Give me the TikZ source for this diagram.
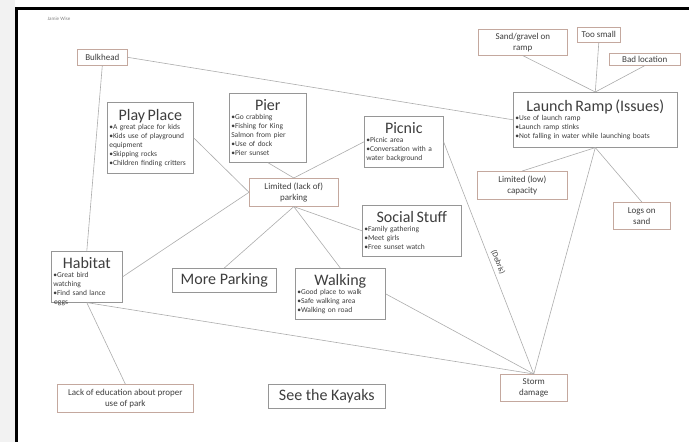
\documentclass[tikz,border=0pt]{standalone}
\usepackage{fontspec}
\setmainfont{Carlito}

\definecolor{linegray}{RGB}{172,172,172}
\definecolor{boxgray}{RGB}{150,150,150}
\definecolor{issuebrown}{RGB}{196,168,158}
\definecolor{inkgray}{RGB}{62,62,62}
\newcommand{\ttl}[1]{{\centering\fontsize{16}{18}\selectfont #1\par}}

\begin{document}
\begin{tikzpicture}[x=1pt,y=-1pt,
	topic/.style={draw=boxgray, line width=0.6pt, fill=white, text=inkgray, align=left, inner sep=2pt, anchor=north west, font=\fontsize{7.5}{9}\selectfont},
	issue/.style={draw=issuebrown, line width=0.6pt, fill=white, text=inkgray, align=center, inner sep=1pt, anchor=north west, font=\fontsize{9}{11}\selectfont},
	big/.style={draw=boxgray, line width=0.6pt, fill=white, text=inkgray, align=center, inner sep=1pt, anchor=north west, font=\fontsize{16}{18}\selectfont},
	link/.style={draw=linegray, line width=0.6pt}]
	\useasboundingbox (0,0) rectangle (689,442);
	\fill[gray!10] (0,0) rectangle (14.5,442);
	\draw[line width=3pt] (16,442) -- (16,8) -- (689,8);
	\node[anchor=west, text=gray, font=\fontsize{5}{6}\selectfont] (name) at (44,19) {Jamie Wise};

	\node[issue, minimum width=50, minimum height=16] (bulk) at (77,49) {Bulkhead};
	\node[topic, text width=82, minimum height=71] (play) at (107,102) {\ttl{Play Place}•A great place for kids\\ •Kids use of playground\\ equipment\\ •Skipping rocks\\ •Children finding critters};
	\node[topic, text width=73, minimum height=69] (pier) at (229,93) {\ttl{Pier}•Go crabbing\\ •Fishing for King\\ Salmon from pier\\ •Use of dock\\ •Pier sunset};
	\node[topic, text width=75, minimum height=51] (picnic) at (364,116) {\ttl{Picnic}•Picnic area\\ •Conversation with a\\ water background};
	\node[issue, minimum width=89, minimum height=28] (park) at (249,178) {Limited (lack of)\\ parking};
	\node[topic, text width=95, minimum height=51] (social) at (362,205) {\ttl{Social Stuff}•Family gathering\\ •Meet girls\\ •Free sunset watch};
	\node[topic, text width=67, minimum height=51,
		label={[anchor=north west, inner sep=0pt, xshift=3pt, yshift=2pt, text=inkgray, font=\fontsize{7.5}{9}\selectfont]south west:eggs}] (habitat) at (51,251) {\ttl{Habitat}•Great bird\\ watching\\ •Find sand lance};
	\node[big, minimum width=104, minimum height=24] (more) at (172,268) {More Parking};
	\node[topic, text width=86, minimum height=51] (walking) at (295,268) {\ttl{Walking}•Good place to walk\\ •Safe walking area\\ •Walking on road};
	\node[big, minimum width=117, minimum height=24] (kayaks) at (268,384) {See the Kayaks};
	\node[issue, minimum width=136, minimum height=28] (educ) at (57,384) {Lack of education about proper\\ use of park};
	\node[issue, minimum width=67, minimum height=27] (storm) at (500,374) {Storm\\ damage};
	\node[topic, text width=160, minimum height=55] (ramp) at (513,92) {\ttl{Launch Ramp (Issues)}•Use of launch ramp\\ •Launch ramp stinks\\ •Not falling in water while launching boats};
	\node[issue, minimum width=89, minimum height=26] (sand) at (478,29) {Sand/gravel on\\ ramp};
	\node[issue, minimum width=43, minimum height=15] (small) at (577,27) {Too small};
	\node[issue, minimum width=71, minimum height=12] (badloc) at (609,53) {Bad location};
	\node[issue, minimum width=90, minimum height=28] (lowcap) at (477,171) {Limited (low)\\ capacity};
	\node[issue, minimum width=57, minimum height=27] (logs) at (613,202) {Logs on\\ sand};

	\draw[link] (bulk.east) -- (ramp.west);
	\draw[link] (bulk.south) -- (habitat.north);
	\draw[link] (play.east) -- (park.west);
	\draw[link] (pier.south) -- (park.north);
	\draw[link] (picnic.west) -- (park.north);
	\draw[link] (park.west) -- (habitat.east);
	\draw[link] (park.south) -- (more.north);
	\draw[link] (park.south) -- (walking.north);
	\draw[link] (park.south) -- (social.west);
	\draw[link] (picnic.east) -- node[pos=0.53, sloped, above, text=inkgray, font=\fontsize{8}{9}\selectfont] {(Debris)} (storm.north);
	\draw[link] (ramp.south) -- (storm.north);
	\draw[link] (ramp.south) -- (lowcap.north);
	\draw[link] (ramp.south) -- (logs.north);
	\draw[link] (sand.south) -- (ramp.north);
	\draw[link] (small.south) -- (ramp.north);
	\draw[link] (badloc.south) -- (ramp.north);
	\draw[link] (walking.east) -- (storm.north);
	\draw[link] (habitat.south) -- (educ.north);
	\draw[link] (habitat.south) -- (storm.north);
\end{tikzpicture}
\end{document}
